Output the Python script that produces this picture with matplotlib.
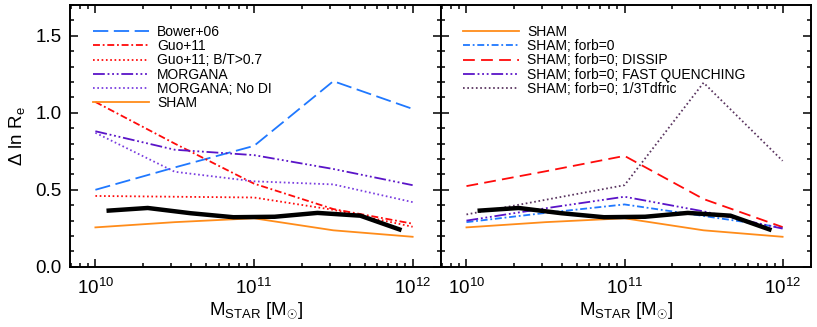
import matplotlib
matplotlib.use("Agg")
import matplotlib.pyplot as plt
from matplotlib.ticker import MultipleLocator, LogLocator, NullFormatter

plt.rcParams['font.family'] = ['Liberation Sans', 'DejaVu Sans']
plt.rcParams['mathtext.fontset'] = 'custom'
plt.rcParams['mathtext.rm'] = 'Liberation Sans'
plt.rcParams['mathtext.it'] = 'Liberation Sans:italic'
plt.rcParams['mathtext.bf'] = 'Liberation Sans:bold'
plt.rcParams['lines.scale_dashes'] = False

# ---------------- data ----------------
log_mass = [10.0, 10.5, 11.0, 11.5, 12.0]
log_mass_obs = [10.07, 10.33, 10.60, 10.87, 11.13, 11.40, 11.67, 11.93]
observed = [0.364, 0.382, 0.348, 0.322, 0.325, 0.350, 0.332, 0.238]

bower06 = [0.50, 0.645, 0.785, 1.205, 1.025]
guo11 = [1.07, 0.80, 0.54, 0.375, 0.28]
guo11_bt = [0.46, 0.455, 0.45, 0.37, 0.26]
morgana = [0.88, 0.76, 0.725, 0.635, 0.53]
morgana_nodi = [0.87, 0.617, 0.555, 0.535, 0.42]
sham = [0.256, 0.29, 0.315, 0.237, 0.195]

sham_forb0 = [0.29, 0.35, 0.405, 0.33, 0.255]
sham_dissip = [0.524, 0.62, 0.72, 0.44, 0.258]
sham_fastq = [0.30, 0.38, 0.455, 0.36, 0.248]
sham_tdfric = [0.34, 0.435, 0.53, 1.195, 0.688]

left_labels = ['Bower+06', 'Guo+11', 'Guo+11; B/T>0.7', 'MORGANA', 'MORGANA; No DI', 'SHAM']
right_labels = ['SHAM', 'SHAM; forb=0', 'SHAM; forb=0; DISSIP',
                'SHAM; forb=0; FAST QUENCHING', 'SHAM; forb=0; 1/3Tdfric']
xtick_vals = [1e10, 1e11, 1e12]
xtick_labels = [r'$10^{10}$', r'$10^{11}$', r'$10^{12}$']
ytick_vals = [0.0, 0.5, 1.0, 1.5]

# ---------------- styles ----------------
BLUE = '#1f78ff'
RED = '#ff0a0a'
PURPLE = '#5a14c8'
LPURPLE = '#7a3ee0'
ORANGE = '#ff8c1a'
BROWN = '#5a3560'

dash_long = (0, (11.0, 4.0))
dash_red = (0, (8.5, 4.5))
dashdot = (0, (5.0, 2.0, 1.3, 2.0))
dash3dot = (0, (8.5, 2.0, 1.3, 2.0, 1.3, 2.0, 1.3, 2.0))
dotted = (0, (1.2, 1.9))

lw = 1.3

fig = plt.figure(figsize=(8.17, 3.27), dpi=100)
axL = fig.add_axes([0.0857, 0.184, 0.4543, 0.801])
axR = fig.add_axes([0.5400, 0.184, 0.4527, 0.801])

xs = [10 ** v for v in log_mass]
xo = [10 ** v for v in log_mass_obs]

left_series = [
    (bower06, BLUE, dash_long),
    (guo11, RED, dashdot),
    (guo11_bt, RED, dotted),
    (morgana, PURPLE, dash3dot),
    (morgana_nodi, LPURPLE, dotted),
    (sham, ORANGE, '-'),
]
hL = []
for (ys, c, ls), lab in zip(left_series, left_labels):
    h, = axL.plot(xs, ys, color=c, linestyle=ls, lw=lw, label=lab)
    hL.append(h)
axL.plot(xo, observed, color='black', lw=3.2, solid_capstyle='butt', zorder=5)

right_series = [
    (sham, ORANGE, '-'),
    (sham_forb0, BLUE, dashdot),
    (sham_dissip, RED, dash_red),
    (sham_fastq, PURPLE, dash3dot),
    (sham_tdfric, BROWN, dotted),
]
hR = []
for (ys, c, ls), lab in zip(right_series, right_labels):
    h, = axR.plot(xs, ys, color=c, linestyle=ls, lw=lw, label=lab)
    hR.append(h)
axR.plot(xo, observed, color='black', lw=3.2, solid_capstyle='butt', zorder=5)

for ax in (axL, axR):
    ax.set_xscale('log')
    ax.set_xlim(10 ** 9.84, 10 ** 12.18)
    ax.set_ylim(0.0, 1.7)
    ax.set_xticks(xtick_vals)
    ax.set_xticklabels(xtick_labels)
    ax.xaxis.set_minor_locator(LogLocator(base=10, subs=range(2, 10)))
    ax.xaxis.set_minor_formatter(NullFormatter())
    ax.set_yticks(ytick_vals)
    ax.yaxis.set_minor_locator(MultipleLocator(0.1))
    ax.tick_params(which='both', direction='in', top=True, right=True, width=1.1)
    ax.tick_params(which='major', length=5.8, labelsize=13.5)
    ax.tick_params(axis='y', which='major', pad=6)
    ax.tick_params(axis='x', which='major', pad=8)
    ax.tick_params(which='minor', length=3.0)
    for s in ax.spines.values():
        s.set_linewidth(1.4)
    ax.set_xlabel(r'M$_{\rm STAR}$ [M$_{\odot}$]', fontsize=13.5, labelpad=2)

axL.set_yticklabels(['0.0', '0.5', '1.0', '1.5'])
axR.set_yticklabels([])
axL.set_ylabel(r'$\Delta$ ln R$_{\rm e}$', fontsize=13.5, labelpad=6)

legkw = dict(frameon=False, fontsize=10, handlelength=4.0, handletextpad=0.6,
             labelspacing=0.02, borderpad=0, borderaxespad=0, loc='upper left')
axL.legend(handles=hL, bbox_to_anchor=(0.062, 0.924), **legkw)
axR.legend(handles=hR, bbox_to_anchor=(0.059, 0.924), **legkw)

fig.savefig('out.png', dpi=100)
